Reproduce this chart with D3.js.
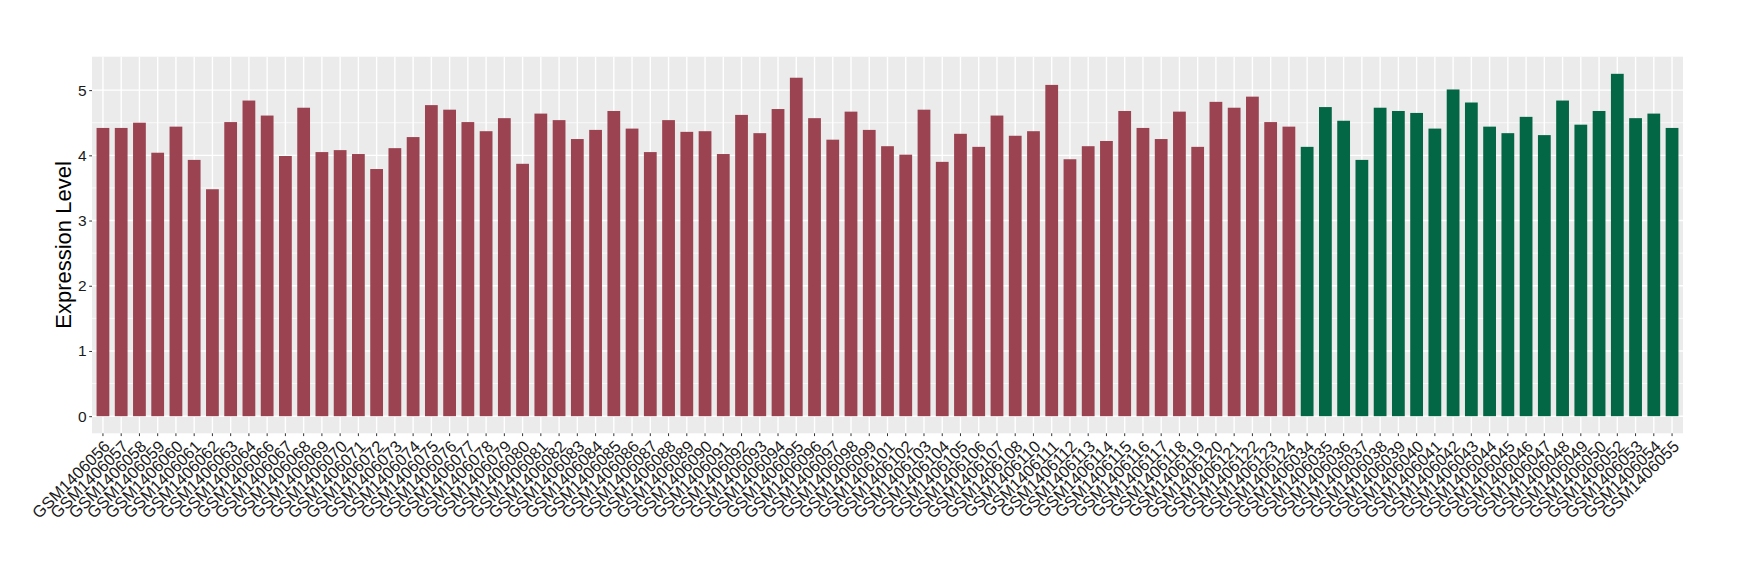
<!DOCTYPE html>
<html>
<head>
<meta charset="utf-8">
<script src="https://d3js.org/d3.v7.min.js"></script>
<style>
  body { margin: 0; background: #fff; }
  svg { display: block; font-family: "Liberation Sans", Arial, Helvetica, sans-serif; }
</style>
</head>
<body>
<svg id="chart" width="1740" height="580"></svg>
<script>
// group 1 samples (red)
var caseSamples = ["GSM1406056","GSM1406057","GSM1406058","GSM1406059","GSM1406060","GSM1406061","GSM1406062","GSM1406063","GSM1406064","GSM1406066",
  "GSM1406067","GSM1406068","GSM1406069","GSM1406070","GSM1406071","GSM1406072","GSM1406073","GSM1406074","GSM1406075","GSM1406076",
  "GSM1406077","GSM1406078","GSM1406079","GSM1406080","GSM1406081","GSM1406082","GSM1406083","GSM1406084","GSM1406085","GSM1406086",
  "GSM1406087","GSM1406088","GSM1406089","GSM1406090","GSM1406091","GSM1406092","GSM1406093","GSM1406094","GSM1406095","GSM1406096",
  "GSM1406097","GSM1406098","GSM1406099","GSM1406101","GSM1406102","GSM1406103","GSM1406104","GSM1406105","GSM1406106","GSM1406107",
  "GSM1406108","GSM1406110","GSM1406111","GSM1406112","GSM1406113","GSM1406114","GSM1406115","GSM1406116","GSM1406117","GSM1406118",
  "GSM1406119","GSM1406120","GSM1406121","GSM1406122","GSM1406123","GSM1406124"];
var caseLevels = [4.42,4.42,4.50,4.04,4.44,3.93,3.48,4.51,4.84,4.61,
  3.99,4.73,4.05,4.08,4.02,3.79,4.11,4.28,4.77,4.70,
  4.51,4.37,4.57,3.87,4.64,4.54,4.25,4.39,4.68,4.41,
  4.05,4.54,4.36,4.37,4.02,4.62,4.34,4.71,5.19,4.57,
  4.24,4.67,4.39,4.14,4.01,4.70,3.90,4.33,4.13,4.61,
  4.30,4.37,5.08,3.94,4.14,4.22,4.68,4.42,4.25,4.67,
  4.13,4.82,4.73,4.90,4.51,4.44];

// group 2 samples (green)
var ctrlSamples = ["GSM1406034","GSM1406035","GSM1406036","GSM1406037","GSM1406038","GSM1406039","GSM1406040","GSM1406041","GSM1406042","GSM1406043",
  "GSM1406044","GSM1406045","GSM1406046","GSM1406047","GSM1406048","GSM1406049","GSM1406050","GSM1406052","GSM1406053","GSM1406054",
  "GSM1406055"];
var ctrlLevels = [4.13,4.74,4.53,3.93,4.73,4.68,4.65,4.41,5.01,4.81,
  4.44,4.34,4.59,4.31,4.84,4.47,4.68,5.25,4.57,4.64,
  4.42];

var yTicks = [0, 1, 2, 3, 4, 5];
var yMinor = [0.5, 1.5, 2.5, 3.5, 4.5];

var groupColors = { "case": "#9B4351", "ctrl": "#036644" };

var data = caseSamples.map(function (s, i) { return { id: s, value: caseLevels[i], group: "case" }; })
  .concat(ctrlSamples.map(function (s, i) { return { id: s, value: ctrlLevels[i], group: "ctrl" }; }));

var svg = d3.select("#chart"),
  panel = { left: 92, top: 56.7, right: 1683, bottom: 433.3 };

var maxVal = d3.max(data, function (d) { return d.value; });

var x = d3.scaleBand()
  .domain(data.map(function (d) { return d.id; }))
  .range([panel.left, panel.right])
  .paddingInner(0.3)
  .paddingOuter(0.25);

var y = d3.scaleLinear()
  .domain([-0.05 * maxVal, 1.05 * maxVal])
  .range([panel.bottom, panel.top]);

// panel background
svg.append("rect")
  .attr("x", panel.left)
  .attr("y", panel.top)
  .attr("width", panel.right - panel.left)
  .attr("height", panel.bottom - panel.top)
  .attr("fill", "#EBEBEB");

// grid
var grid = svg.append("g").attr("class", "grid").attr("stroke", "#fff");
grid.selectAll("line.minor")
  .data(yMinor)
  .enter().append("line")
  .attr("class", "minor")
  .attr("x1", panel.left).attr("x2", panel.right)
  .attr("y1", function (d) { return y(d); })
  .attr("y2", function (d) { return y(d); })
  .attr("stroke-width", 0.7);
grid.selectAll("line.major")
  .data(yTicks)
  .enter().append("line")
  .attr("class", "major")
  .attr("x1", panel.left).attr("x2", panel.right)
  .attr("y1", function (d) { return y(d); })
  .attr("y2", function (d) { return y(d); })
  .attr("stroke-width", 1.4);
grid.selectAll("line.vert")
  .data(data)
  .enter().append("line")
  .attr("class", "vert")
  .attr("y1", panel.top).attr("y2", panel.bottom)
  .attr("x1", function (d) { return x(d.id) + x.bandwidth() / 2; })
  .attr("x2", function (d) { return x(d.id) + x.bandwidth() / 2; })
  .attr("stroke-width", 1.4);

// bars
svg.append("g")
  .selectAll("rect")
  .data(data)
  .enter().append("rect")
  .attr("x", function (d) { return x(d.id); })
  .attr("width", x.bandwidth())
  .attr("y", function (d) { return y(d.value); })
  .attr("height", function (d) { return y(0) - y(d.value); })
  .attr("fill", function (d) { return groupColors[d.group]; });

// y axis
var yAxis = svg.append("g")
  .attr("transform", "translate(" + panel.left + ",0)")
  .call(d3.axisLeft(y).tickValues(yTicks).tickSize(2.8).tickPadding(2.5).tickFormat(d3.format("d")));
yAxis.select(".domain").remove();
yAxis.selectAll(".tick line").attr("stroke", "#333");
yAxis.selectAll(".tick text")
  .attr("fill", "#1a1a1a")
  .style("font-size", "15.5px")
  .attr("font-family", null);

// x axis
var xAxis = svg.append("g")
  .attr("transform", "translate(0," + panel.bottom + ")")
  .call(d3.axisBottom(x).tickSize(2.8).tickPadding(3));
xAxis.select(".domain").remove();
xAxis.selectAll(".tick line").attr("stroke", "#333");
xAxis.selectAll(".tick text")
  .attr("fill", "#1a1a1a")
  .attr("font-family", null)
  .style("font-size", "16.5px")
  .attr("text-anchor", "end")
  .attr("y", 6)
  .attr("dy", "0.7em")
  .attr("transform", "rotate(-45 0 6)");

// y title
svg.append("text")
  .attr("transform", "translate(71," + ((panel.top + panel.bottom) / 2) + ") rotate(-90)")
  .attr("text-anchor", "middle")
  .attr("fill", "#000")
  .style("font-size", "22px")
  .text("Expression Level");
</script>
</body>
</html>
